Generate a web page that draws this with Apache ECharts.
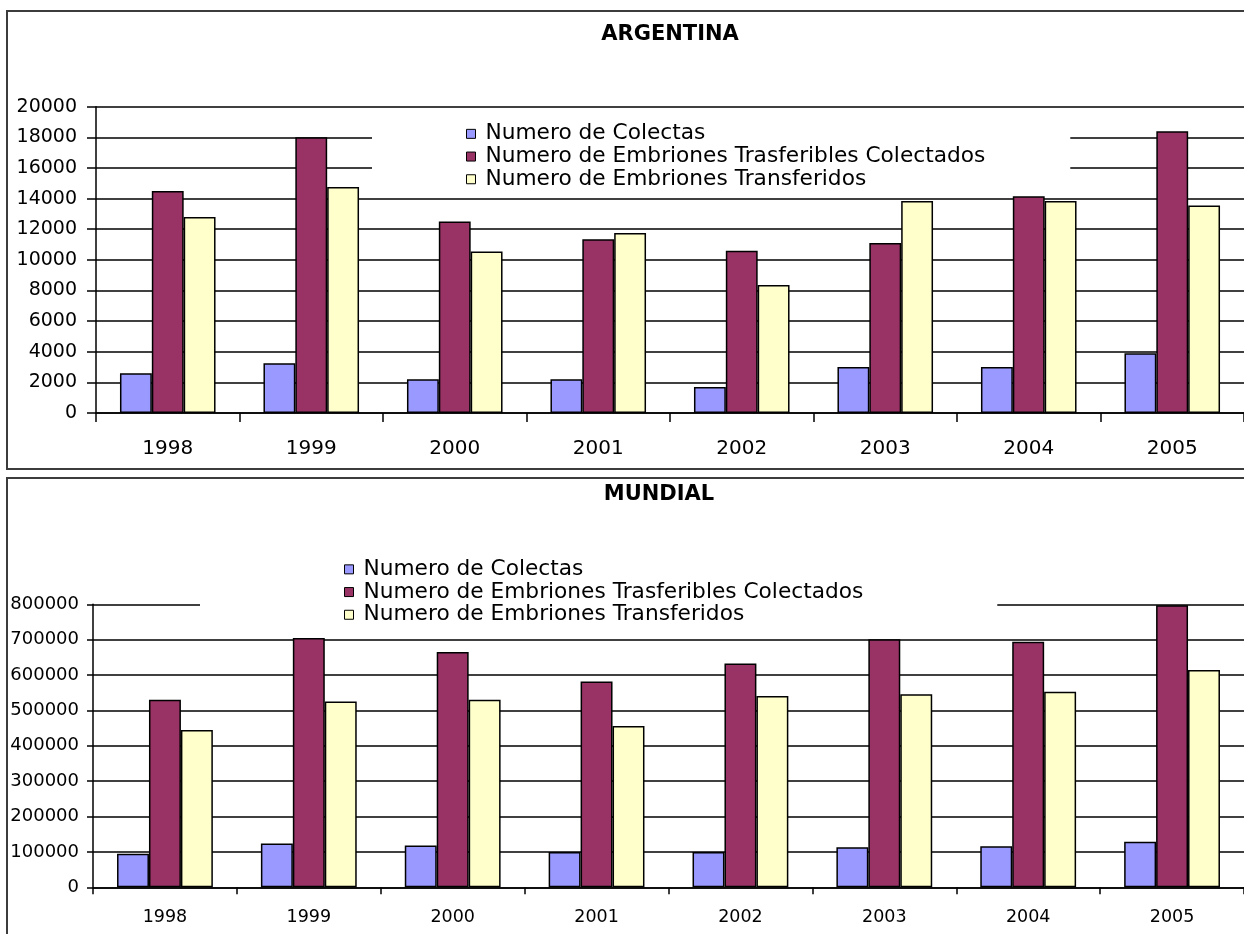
<!DOCTYPE html>
<html>
<head>
<meta charset="utf-8">
<script src="https://cdn.jsdelivr.net/npm/echarts@6/dist/echarts.min.js"></script>
<style>
html,body{margin:0;padding:0;background:#fff;}
#c{width:1244px;height:934px;}
</style>
</head>
<body>
<div id="c"></div>
<script>
const years = ['1998','1999','2000','2001','2002','2003','2004','2005'];
const seriesNames = ['Numero de Colectas','Numero de Embriones Trasferibles Colectados','Numero de Embriones Transferidos'];
const argColectas = [2600, 3250, 2200, 2200, 1700, 3000, 3000, 3900];
const argColectados = [14500, 18000, 12500, 11350, 10600, 11100, 14150, 18400];
const argTransferidos = [12800, 14750, 10550, 11750, 8350, 13850, 13850, 13550];
const munColectas = [95000, 124000, 118000, 100000, 100000, 113000, 116000, 129000];
const munColectados = [530000, 705000, 665000, 582000, 633000, 701000, 694000, 797000];
const munTransferidos = [445000, 525000, 530000, 456000, 541000, 546000, 553000, 614000];
const titles = ['ARGENTINA', 'MUNDIAL'];

const colors = ['#9999FF', '#993366', '#FFFFCC'];
const FONT = 'DejaVu Sans';
const LW = 1.5;

function mkSeries(name, data, color, idx) {
  return {
    name: name, type: 'bar', data: data,
    xAxisIndex: idx, yAxisIndex: idx,
    barGap: '0%', barCategoryGap: '33.4%',
    itemStyle: {color: color, borderColor: '#000', borderWidth: LW},
    emphasis: {disabled: true},
    animation: false
  };
}

function legend(left, top, pad) {
  return {
    data: seriesNames, orient: 'vertical', left: left, top: top,
    padding: pad, backgroundColor: '#fff', itemGap: 0,
    itemWidth: 9, itemHeight: 9, icon: 'rect', selectedMode: false,
    itemStyle: {borderColor: '#000', borderWidth: 1},
    textStyle: {fontFamily: FONT, fontSize: 21.7, color: '#000', lineHeight: 22.7, padding: [0,0,0,5]}
  };
}

const plain = v => String(v);

const option = {
  animation: false,
  backgroundColor: '#fff',
  grid: [
    {left: 96, top: 106.7, width: 1161, height: 306.3},
    {left: 93, top: 604.3, width: 1160, height: 283}
  ],
  xAxis: [0, 1].map(i => ({
    type: 'category', data: years, gridIndex: i,
    axisLine: {lineStyle: {color: '#000', width: LW}},
    axisTick: {show: true, length: i === 0 ? 9 : 7, lineStyle: {color: '#000', width: LW}},
    axisLabel: {color: '#000', fontFamily: FONT, fontSize: i === 0 ? 20 : 17.5, margin: i === 0 ? 26 : 21}
  })),
  yAxis: [
    {type: 'value', gridIndex: 0, min: 0, max: 20000, interval: 2000,
     axisLine: {show: true, lineStyle: {color: '#000', width: LW}},
     axisTick: {show: true, length: 9, lineStyle: {color: '#000', width: LW}},
     splitLine: {lineStyle: {color: '#000', width: LW}},
     axisLabel: {color: '#000', fontFamily: FONT, fontSize: 19, margin: 19, formatter: plain}},
    {type: 'value', gridIndex: 1, min: 0, max: 800000, interval: 100000,
     axisLine: {show: true, lineStyle: {color: '#000', width: LW}},
     axisTick: {show: true, length: 6, lineStyle: {color: '#000', width: LW}},
     splitLine: {lineStyle: {color: '#000', width: LW}},
     axisLabel: {color: '#000', fontFamily: FONT, fontSize: 18, margin: 14, formatter: plain}}
  ],
  legend: [
    legend(372, 112.5, [10, 85, 5, 94]),
    legend(200, 548, [10, 134, 5, 144])
  ],
  series: [
    mkSeries(seriesNames[0], argColectas, colors[0], 0),
    mkSeries(seriesNames[1], argColectados, colors[1], 0),
    mkSeries(seriesNames[2], argTransferidos, colors[2], 0),
    mkSeries(seriesNames[0], munColectas, colors[0], 1),
    mkSeries(seriesNames[1], munColectados, colors[1], 1),
    mkSeries(seriesNames[2], munTransferidos, colors[2], 1)
  ],
  graphic: [
    {type: 'rect', z: 100, silent: true, shape: {x: 7, y: 11, width: 1260, height: 458},
     style: {fill: null, stroke: '#3c3c3c', lineWidth: 2}},
    {type: 'rect', z: 100, silent: true, shape: {x: 7, y: 478, width: 1260, height: 470},
     style: {fill: null, stroke: '#3c3c3c', lineWidth: 2}},
    {type: 'text', z: 100, x: 670, y: 35,
     style: {text: titles[0], fontFamily: FONT, fontSize: 21, fontWeight: 'bold', fill: '#000', textAlign: 'center', textVerticalAlign: 'middle'}},
    {type: 'text', z: 100, x: 659, y: 495,
     style: {text: titles[1], fontFamily: FONT, fontSize: 21, fontWeight: 'bold', fill: '#000', textAlign: 'center', textVerticalAlign: 'middle'}}
  ]
};

const chart = echarts.init(document.getElementById('c'), null, {renderer: 'canvas'});
chart.setOption(option);
</script>
</body>
</html>
